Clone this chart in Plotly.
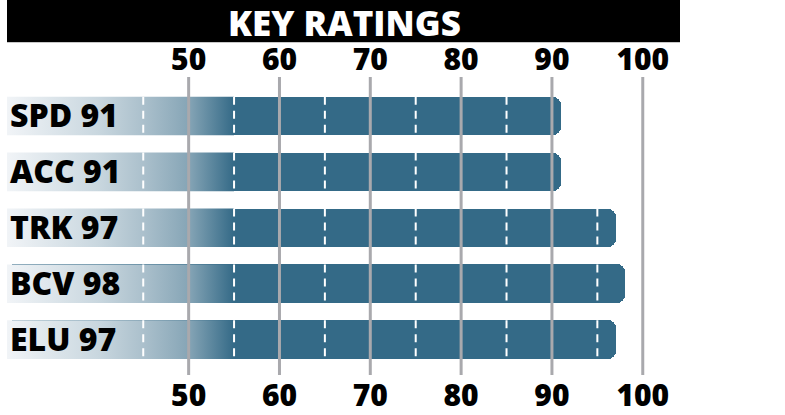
import plotly.graph_objects as go

categories = ["SPD", "ACC", "TRK", "BCV", "ELU"]
ratings = [91, 91, 97, 98, 97]
grid_ticks = [50, 60, 70, 80, 90, 100]
dash_ticks = [45, 55, 65, 75, 85, 95]
title_text = "KEY RATINGS"

X_MIN, X_MAX = 30, 115
FADE_END = 55
BAR_W = 0.69
DARK = "#346a87"
FONT = "Open Sans"

n = len(categories)
ypos = list(range(n))
labels = [f"{c} {v}" for c, v in zip(categories, ratings)]

fig = go.Figure()

# solid bars (rounded right end)
fig.add_trace(go.Bar(
    y=ypos, x=[v - X_MIN for v in ratings], base=X_MIN, orientation="h",
    width=BAR_W, marker=dict(color=DARK, line=dict(width=0), cornerradius=8),
    hoverinfo="skip", showlegend=False,
))

# gradient fade on the left part of each bar
gx, gy = [], []
for i in ypos:
    y0, y1 = i - BAR_W / 2, i + BAR_W / 2
    gx += [X_MIN, FADE_END, FADE_END, X_MIN, X_MIN, None]
    gy += [y0, y0, y1, y1, y0, None]
fig.add_trace(go.Scatter(
    x=gx, y=gy, xaxis="x2", mode="lines", fill="toself",
    line=dict(width=0, color="rgba(0,0,0,0)"),
    fillgradient=dict(
        type="horizontal", start=X_MIN, stop=FADE_END,
        colorscale=[[0, "#f1f4f7"], [0.4, "#c9d7df"], [0.6, "#abc0cc"],
                    [0.8, "#86a5b6"], [1, DARK]],
    ),
    hoverinfo="skip", showlegend=False,
))

shapes = []
# white dashed midlines inside bars
for i, v in enumerate(ratings):
    for d in dash_ticks:
        if d < v - 0.5:
            shapes.append(dict(type="line", xref="x", yref="y", x0=d, x1=d,
                               y0=i - BAR_W / 2, y1=i + BAR_W / 2,
                               line=dict(color="white", width=2, dash="8px,6px"),
                               layer="above"))
# grey gridlines above bars
for g in grid_ticks:
    shapes.append(dict(type="line", xref="x", yref="paper", x0=g, x1=g, y0=0, y1=1,
                       line=dict(color="#a9a9ad", width=3), layer="above"))

# title band
W, H = 785, 415
ML, MR, MT, MB = 7, 6, 77, 40
plot_w = W - ML - MR
plot_h = H - MT - MB
def py(p):
    return (H - MB - p) / plot_h
def px(p):
    return (p - ML) / plot_w
shapes.append(dict(type="rect", xref="paper", yref="paper",
                   x0=px(7), x1=px(680), y0=py(42), y1=py(0) + 0.05,
                   fillcolor="black", line=dict(width=0), layer="above"))
shapes.append(dict(type="line", xref="paper", yref="paper",
                   x0=px(7), x1=px(680), y0=py(42.5), y1=py(42.5),
                   line=dict(color="#c8c8c8", width=1), layer="above"))

tick_font = dict(family=FONT, size=30, color="black", weight=800)

fig.update_layout(
    width=W, height=H,
    margin=dict(l=ML, r=MR, t=MT, b=MB, pad=0, autoexpand=False),
    paper_bgcolor="white", plot_bgcolor="white",
    shapes=shapes,
    annotations=[dict(text=title_text, xref="paper", yref="paper",
                      x=px(344), y=py(22), xanchor="center", yanchor="middle",
                      height=38, valign="middle", borderpad=0,
                      showarrow=False,
                      font=dict(family=FONT, size=35, color="white", weight=800))],
    xaxis=dict(range=[X_MIN, X_MAX], tickvals=grid_ticks, ticks="", showgrid=False,
               zeroline=False, showline=False, tickfont=tick_font, side="bottom",
               ticklabelstandoff=0, fixedrange=True, automargin=False),
    xaxis2=dict(range=[X_MIN, X_MAX], tickvals=grid_ticks, ticks="", showgrid=False,
                zeroline=False, showline=False, tickfont=tick_font, side="top",
                overlaying="x", anchor="y", ticklabelstandoff=0, fixedrange=True,
                automargin=False),
    yaxis=dict(range=[(375 - 116) / 55.9, (77 - 116) / 55.9], tickvals=ypos, ticktext=labels,
               ticks="", showgrid=False, zeroline=False, showline=False,
               ticklabelposition="inside", ticklabelstandoff=0,
               tickfont=dict(family=FONT, size=32, color="black", weight=800),
               fixedrange=True, automargin=False),
    bargap=0,
)

fig.write_html("out.html", config={"displayModeBar": False},
               post_script="document.body.style.margin='0';document.body.style.overflow='hidden';")
